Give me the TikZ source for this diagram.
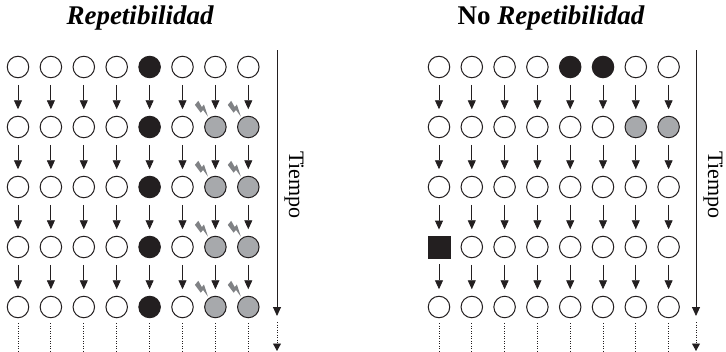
\documentclass[tikz,border=0pt]{standalone}
\usepackage{fontspec}
\setmainfont{Liberation Serif}
\usetikzlibrary{arrows.meta}
\definecolor{blk}{HTML}{231F20}
\definecolor{gry}{HTML}{A7A9AC}
\definecolor{boltgry}{HTML}{808285}
\tikzset{
  cell/.style={circle, draw=blk, line width=1pt, minimum size=21.5pt, inner sep=0pt},
  wcell/.style={cell, fill=white},
  bcell/.style={cell, fill=blk},
  gcell/.style={cell, fill=gry},
  sqcell/.style={rectangle, draw=blk, fill=blk, minimum size=21.5pt, inner sep=0pt},
  flow/.style={draw=blk, line width=0.9pt, -{Triangle[width=8pt,length=9pt]},
               shorten <=6.5pt, shorten >=6.5pt},
  tail/.style={draw=blk, line width=0.9pt, dash pattern=on 0.9pt off 1.6pt, shorten <=5pt},
  timeline/.style={draw=blk, line width=0.9pt, -{Triangle[width=8pt,length=9pt]}},
  timetail/.style={draw=blk, line width=0.9pt, dash pattern=on 0.9pt off 1.6pt,
                   -{Triangle[width=8pt,length=7.5pt]}},
  title/.style={font=\fontsize{27}{30}\selectfont\bfseries, anchor=center},
  timelabel/.style={font=\fontsize{22}{26}\selectfont, rotate=-90, anchor=center},
  bolt/.pic={
    \fill[boltgry, rotate=50, scale=1.4]
      (-1.2,-6) -- (2.6,-6) -- (0.8,-1.2) -- (3.2,-1.2) -- (-1.6,6.5)
      -- (-0.2,0.8) -- (-2.8,0.8) -- cycle;
  }
}
\begin{document}
\begin{tikzpicture}[x=1pt, y=-1pt]
\useasboundingbox (0,0) rectangle (726,351);

% titles
\node[title] (tl) at (140,18) {\itshape Repetibilidad};
\node[title] (tr) at (551,18) {No \itshape Repetibilidad};

% left grid: one cell keeps failing, two cells are disturbed from step 2 on
\foreach \r in {1,...,5}{
  \foreach \c in {1,...,8}{
    \def\st{wcell}
    \ifnum\c=5 \def\st{bcell}\fi
    \ifnum\r>1 \ifnum\c>6 \def\st{gcell}\fi\fi
    \node[\st] (L-\r-\c) at ({18+(\c-1)*32.9}, {67+(\r-1)*60}) {};
  }
}
% right grid: failures that do not repeat
\foreach \r in {1,...,5}{
  \foreach \c in {1,...,8}{
    \def\st{wcell}
    \ifnum\r=1 \ifnum\c>4 \ifnum\c<7 \def\st{bcell}\fi\fi\fi
    \ifnum\r=2 \ifnum\c>6 \def\st{gcell}\fi\fi
    \ifnum\r=4 \ifnum\c=1 \def\st{sqcell}\fi\fi
    \node[\st] (R-\r-\c) at ({439+(\c-1)*32.8}, {67+(\r-1)*60}) {};
  }
}

% vertical steps
\foreach \r [evaluate=\r as \n using int(\r+1)] in {1,...,4}{
  \foreach \c in {1,...,8}{
    \draw[flow] (L-\r-\c.south) -- (L-\n-\c.north);
    \draw[flow] (R-\r-\c.south) -- (R-\n-\c.north);
  }
}
% continuation below the last row
\foreach \c in {1,...,8}{
  \path (L-5-\c.south) ++(0,33) coordinate (Le-\c);
  \path (R-5-\c.south) ++(0,33) coordinate (Re-\c);
  \draw[tail] (L-5-\c.south) -- (Le-\c);
  \draw[tail] (R-5-\c.south) -- (Re-\c);
}

% disturbances on the grey cells
\foreach \r in {2,...,5}{
  \foreach \c in {7,8}{
    \path (L-\r-\c) ++(-13,-18) pic {bolt};
  }
}

% time axes
\coordinate (lt0) at (277,50);
\coordinate (lt1) at (277,316);
\coordinate (lt2) at (277,322);
\coordinate (lt3) at (277,351);
\draw[timeline] (lt0) -- (lt1);
\draw[timetail] (lt2) -- (lt3);
\node[timelabel] (lab-l) at (294,185) {Tiempo};

\coordinate (rt0) at (696,50);
\coordinate (rt1) at (696,316);
\coordinate (rt2) at (696,322);
\coordinate (rt3) at (696,351);
\draw[timeline] (rt0) -- (rt1);
\draw[timetail] (rt2) -- (rt3);
\node[timelabel] (lab-r) at (713,185) {Tiempo};
\end{tikzpicture}
\end{document}
